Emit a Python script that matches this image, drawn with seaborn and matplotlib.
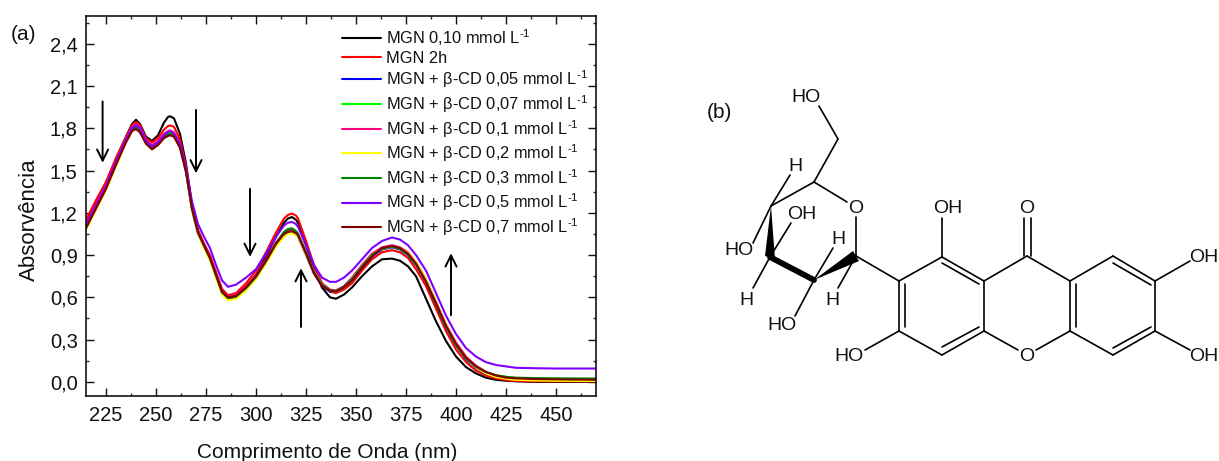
import pandas as pd
import matplotlib.pyplot as plt
from matplotlib.ticker import MultipleLocator, FixedLocator
import seaborn as sns

wavelength = [215, 220, 225, 230, 235, 238, 240, 242, 245, 248, 251, 254, 256, 257, 259, 262, 265, 268, 271, 274, 277,
              280, 283, 286, 290, 295, 300, 305, 310, 314, 316, 318, 320, 321, 325, 329, 333, 337, 340, 344, 348, 353, 358,
              363, 368, 372, 376, 380, 385, 390, 395, 400, 405, 410, 415, 420, 425, 430, 440, 450, 470]

mgn_010 = [1.13, 1.27, 1.41, 1.58, 1.74, 1.83, 1.86, 1.83, 1.74, 1.71, 1.75, 1.84, 1.88, 1.885, 1.87, 1.76, 1.55, 1.25, 1.07, 0.97, 0.88,
           0.76, 0.63, 0.585, 0.60, 0.67, 0.76, 0.89, 1.03, 1.13, 1.16, 1.17, 1.15, 1.13, 0.97, 0.80, 0.67, 0.60, 0.59, 0.62, 0.67, 0.75, 0.82,
           0.87, 0.875, 0.86, 0.82, 0.75, 0.59, 0.43, 0.29, 0.18, 0.105, 0.06, 0.03, 0.015, 0.008, 0.004, 0.0, 0.0, 0.0]
mgn_2h = [1.15, 1.29, 1.42, 1.59, 1.74, 1.82, 1.845, 1.82, 1.73, 1.70, 1.73, 1.79, 1.815, 1.82, 1.81, 1.72, 1.53, 1.25, 1.08, 0.98, 0.90,
          0.78, 0.66, 0.615, 0.63, 0.70, 0.79, 0.92, 1.06, 1.16, 1.185, 1.195, 1.18, 1.16, 1.00, 0.83, 0.70, 0.64, 0.63, 0.655, 0.70, 0.79, 0.87,
          0.92, 0.935, 0.92, 0.88, 0.80, 0.68, 0.52, 0.36, 0.23, 0.14, 0.08, 0.045, 0.025, 0.012, 0.007, 0.004, 0.004, 0.004]
cd_005 = [1.10, 1.24, 1.38, 1.55, 1.71, 1.79, 1.815, 1.79, 1.70, 1.66, 1.69, 1.74, 1.76, 1.765, 1.75, 1.67, 1.49, 1.22, 1.05, 0.96, 0.87,
          0.75, 0.63, 0.59, 0.60, 0.66, 0.74, 0.85, 0.97, 1.04, 1.055, 1.06, 1.045, 1.03, 0.90, 0.77, 0.68, 0.64, 0.64, 0.67, 0.72, 0.81, 0.89,
          0.94, 0.955, 0.94, 0.90, 0.83, 0.71, 0.55, 0.39, 0.26, 0.16, 0.10, 0.06, 0.04, 0.03, 0.02, 0.015, 0.012, 0.01]
cd_007 = [1.11, 1.25, 1.39, 1.56, 1.72, 1.80, 1.82, 1.80, 1.71, 1.67, 1.70, 1.75, 1.77, 1.775, 1.76, 1.68, 1.50, 1.23, 1.06, 0.97, 0.88,
          0.76, 0.64, 0.60, 0.61, 0.67, 0.75, 0.86, 0.98, 1.05, 1.065, 1.07, 1.055, 1.04, 0.91, 0.78, 0.69, 0.65, 0.645, 0.675, 0.73, 0.82, 0.90,
          0.95, 0.96, 0.945, 0.905, 0.835, 0.715, 0.555, 0.395, 0.265, 0.165, 0.105, 0.065, 0.045, 0.035, 0.028, 0.024, 0.022, 0.02]
cd_01 = [1.12, 1.26, 1.40, 1.57, 1.73, 1.81, 1.83, 1.81, 1.72, 1.68, 1.71, 1.76, 1.78, 1.785, 1.77, 1.69, 1.51, 1.24, 1.07, 0.98, 0.89,
         0.77, 0.65, 0.605, 0.62, 0.68, 0.76, 0.87, 0.99, 1.06, 1.075, 1.08, 1.065, 1.05, 0.92, 0.79, 0.70, 0.655, 0.65, 0.68, 0.74, 0.83, 0.91,
         0.955, 0.97, 0.955, 0.92, 0.85, 0.73, 0.57, 0.41, 0.28, 0.18, 0.115, 0.07, 0.045, 0.03, 0.022, 0.015, 0.012, 0.01]
cd_02 = [1.08, 1.22, 1.36, 1.53, 1.70, 1.78, 1.80, 1.78, 1.69, 1.65, 1.68, 1.73, 1.75, 1.755, 1.74, 1.66, 1.49, 1.22, 1.05, 0.95, 0.86,
         0.74, 0.62, 0.58, 0.59, 0.65, 0.73, 0.84, 0.96, 1.03, 1.05, 1.055, 1.04, 1.03, 0.90, 0.78, 0.69, 0.645, 0.64, 0.67, 0.73, 0.82, 0.90,
         0.945, 0.96, 0.95, 0.915, 0.85, 0.73, 0.57, 0.41, 0.27, 0.17, 0.105, 0.06, 0.035, 0.022, 0.015, 0.01, 0.008, 0.006]
cd_03 = [1.10, 1.24, 1.38, 1.55, 1.71, 1.79, 1.805, 1.78, 1.70, 1.655, 1.69, 1.74, 1.755, 1.76, 1.75, 1.67, 1.50, 1.23, 1.06, 0.965, 0.875,
         0.755, 0.635, 0.595, 0.605, 0.665, 0.745, 0.855, 0.98, 1.065, 1.085, 1.09, 1.07, 1.05, 0.92, 0.78, 0.69, 0.65, 0.645, 0.675, 0.73, 0.82, 0.90,
         0.945, 0.96, 0.945, 0.905, 0.835, 0.715, 0.555, 0.395, 0.265, 0.17, 0.11, 0.07, 0.048, 0.036, 0.03, 0.027, 0.025, 0.024]
cd_05 = [1.11, 1.25, 1.39, 1.56, 1.72, 1.80, 1.82, 1.80, 1.71, 1.67, 1.70, 1.75, 1.775, 1.78, 1.76, 1.69, 1.52, 1.28, 1.12, 1.03, 0.95,
         0.83, 0.72, 0.675, 0.69, 0.74, 0.80, 0.91, 1.03, 1.11, 1.13, 1.135, 1.12, 1.10, 0.97, 0.83, 0.74, 0.71, 0.71, 0.74, 0.79, 0.87, 0.95,
         1.00, 1.025, 1.01, 0.97, 0.90, 0.79, 0.63, 0.47, 0.34, 0.24, 0.18, 0.14, 0.12, 0.11, 0.10, 0.097, 0.095, 0.095]
cd_07 = [1.09, 1.23, 1.37, 1.54, 1.70, 1.78, 1.795, 1.77, 1.69, 1.65, 1.68, 1.73, 1.745, 1.75, 1.74, 1.66, 1.49, 1.23, 1.06, 0.97, 0.88,
         0.76, 0.64, 0.60, 0.61, 0.67, 0.75, 0.86, 0.98, 1.05, 1.065, 1.07, 1.055, 1.04, 0.91, 0.77, 0.68, 0.645, 0.64, 0.67, 0.72, 0.81, 0.89,
         0.95, 0.965, 0.95, 0.91, 0.84, 0.71, 0.56, 0.40, 0.27, 0.17, 0.11, 0.07, 0.045, 0.03, 0.025, 0.02, 0.018, 0.015]

series_labels = ['MGN 0,10 mmol L$^{\\text{-1}}$', 'MGN 2h',
                 'MGN + β-CD 0,05 mmol L$^{\\text{-1}}$', 'MGN + β-CD 0,07 mmol L$^{\\text{-1}}$',
                 'MGN + β-CD 0,1 mmol L$^{\\text{-1}}$', 'MGN + β-CD 0,2 mmol L$^{\\text{-1}}$',
                 'MGN + β-CD 0,3 mmol L$^{\\text{-1}}$', 'MGN + β-CD 0,5 mmol L$^{\\text{-1}}$',
                 'MGN + β-CD 0,7 mmol L$^{\\text{-1}}$']
series_values = [mgn_010, mgn_2h, cd_005, cd_007, cd_01, cd_02, cd_03, cd_05, cd_07]
series_colors = ['#000000', '#FF0000', '#0000FF', '#00FF00', '#FF0080', '#FFFF00', '#008000', '#8000FF', '#800000']

y_ticks = [0.0, 0.3, 0.6, 0.9, 1.2, 1.5, 1.8, 2.1, 2.4]
y_tick_labels = ['0,0', '0,3', '0,6', '0,9', '1,2', '1,5', '1,8', '2,1', '2,4']

# arrows on the spectrum: x, y start, y end
arrows = [(223.3, 1.99, 1.555), (270, 1.93, 1.48), (297, 1.37, 0.887), (322.5, 0.39, 0.807), (397.5, 0.473, 0.913)]

# panel (b), structure drawn in picture pixels
bonds = [
    (771, 206, 814, 182), (814, 182, 847, 202), (856, 217, 856, 256), (814, 182, 838, 139), (838, 139, 819, 106),
    (771, 206, 790, 175), (771, 206, 753, 243), (770, 257, 791, 223), (770, 257, 753, 288), (814, 280, 833, 248),
    (814, 280, 795, 316), (856, 256, 838, 288), (856, 256, 899, 281),
    (899, 281, 942, 257), (942, 257, 984, 281), (984, 281, 984, 331), (984, 331, 942, 355), (942, 355, 899, 331),
    (899, 331, 899, 281), (905, 284, 905, 327), (942, 263, 979, 284), (979, 327, 942, 347),
    (942, 257, 942, 218), (899, 331, 865, 350),
    (984, 281, 1027, 256), (1027, 256, 1070, 281), (1070, 281, 1070, 331), (1024, 218, 1024, 256), (1031, 218, 1031, 256),
    (984, 331, 1018, 350), (1070, 331, 1036, 350), (1076, 284, 1076, 327),
    (1070, 281, 1113, 256), (1113, 256, 1155, 281), (1155, 281, 1155, 331), (1155, 331, 1113, 355), (1113, 355, 1070, 331),
    (1113, 263, 1151, 285), (1151, 327, 1113, 348), (1155, 281, 1190, 261), (1155, 331, 1190, 350),
]
wedges = [
    [(771, 206), (765, 256), (775, 259)],
    [(814, 280), (853, 251), (859, 261)],
]
thick_bond = (770, 257, 814, 280)
atom_labels = [
    ('HO', 806, 97), ('H', 795, 166), ('HO', 739, 250), ('OH', 802, 214), ('O', 856, 208), ('H', 838, 239),
    ('H', 746, 300), ('H', 832, 300), ('HO', 782, 325), ('OH', 948, 208), ('HO', 849, 356), ('O', 1027, 208),
    ('O', 1027, 356), ('OH', 1204, 257), ('OH', 1204, 356),
]


def main():
    sns.set_theme(style="ticks")
    plt.rcParams.update({'font.family': 'Liberation Sans', 'mathtext.fontset': 'custom',
                         'mathtext.rm': 'Liberation Sans', 'mathtext.default': 'rm', 'text.color': '#111111'})

    rows = []
    for label, values in zip(series_labels, series_values):
        rows.append(pd.DataFrame({'wl': wavelength, 'abs': values, 'serie': label}))
    df = pd.concat(rows, ignore_index=True)

    fig = plt.figure(figsize=(12.19, 4.61), dpi=100)
    ax = fig.add_axes([86 / 1219, 65 / 461, 510 / 1219, 380.5 / 461])

    sns.lineplot(data=df, x='wl', y='abs', hue='serie', hue_order=series_labels,
                 palette=series_colors, linewidth=1.5, errorbar=None, ax=ax)

    ax.set_xlim(215, 470)
    ax.set_ylim(-0.1, 2.6)
    ax.xaxis.set_major_locator(MultipleLocator(25))
    ax.xaxis.set_minor_locator(MultipleLocator(12.5))
    ax.yaxis.set_major_locator(FixedLocator(y_ticks))
    ax.yaxis.set_minor_locator(MultipleLocator(0.15))
    ax.set_yticklabels(y_tick_labels)
    ax.tick_params(which='major', direction='in', length=5.5, width=1, top=True, right=True, labelsize=14.5, colors='#111111')
    ax.tick_params(which='minor', direction='in', length=2.5, width=1, top=True, right=True)
    ax.tick_params(axis='x', which='major', pad=7)
    ax.tick_params(axis='y', which='major', pad=6)
    ax.set_xlabel('Comprimento de Onda (nm)', fontsize=15, color='#111111')
    ax.set_ylabel('Absorvência', fontsize=16, color='#111111')
    ax.xaxis.set_label_coords(0.473, -0.123)
    ax.yaxis.set_label_coords(-0.091, 0.463)
    for spine in ax.spines.values():
        spine.set_linewidth(1.1)
        spine.set_color('black')

    for x, y0, y1 in arrows:
        ax.annotate('', xy=(x, y1), xytext=(x, y0),
                    arrowprops=dict(arrowstyle='->', color='black', lw=1.4, mutation_scale=20, shrinkA=0, shrinkB=0))

    handles, labels = ax.get_legend_handles_labels()
    ax.legend(handles, labels, loc='upper left', bbox_to_anchor=(0.502, 0.97), frameon=False, fontsize=11.8,
              handlelength=2.4, handletextpad=0.27, labelspacing=0.18, borderpad=0, borderaxespad=0)

    # overlay in pixel coordinates for the panel letters and the molecule
    over = fig.add_axes([0, 0, 1, 1], facecolor='none')
    over.set_xlim(0, 1219)
    over.set_ylim(461, 0)
    over.axis('off')
    over.text(24, 34, '(a)', fontsize=15, ha='center', va='center')
    over.text(719, 112, '(b)', fontsize=15, ha='center', va='center')
    for x0, y0, x1, y1 in bonds:
        over.plot([x0, x1], [y0, y1], color='black', lw=1.2, solid_capstyle='round')
    over.plot([thick_bond[0], thick_bond[2]], [thick_bond[1], thick_bond[3]], color='black', lw=4.2, solid_capstyle='round')
    for pts in wedges:
        over.fill([p[0] for p in pts], [p[1] for p in pts], color='black', lw=0)
    for text, x, y in atom_labels:
        over.text(x, y, text, fontsize=14, ha='center', va='center')

    fig.savefig('out.png', dpi=100)


if __name__ == "__main__":
    main()
